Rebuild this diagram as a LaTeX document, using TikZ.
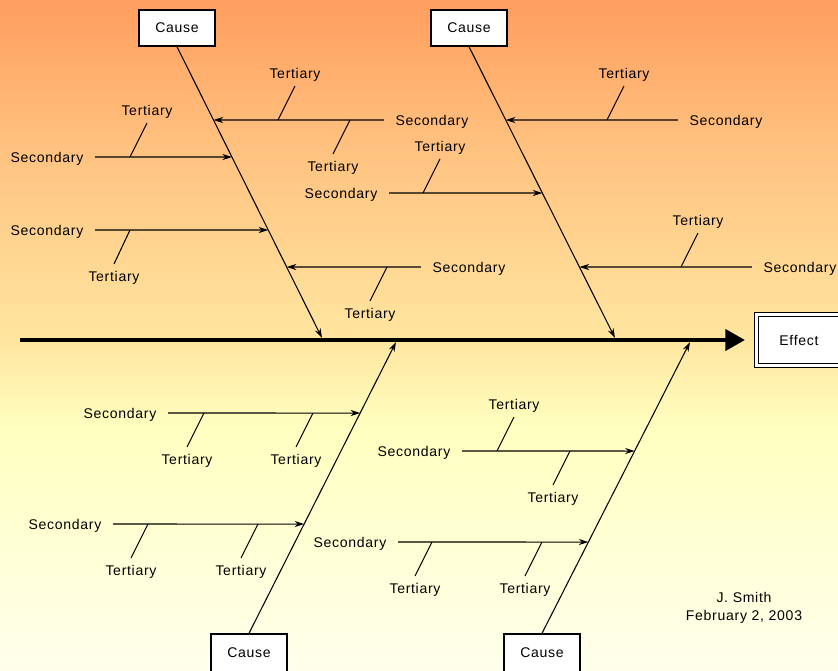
\documentclass[tikz,border=0pt]{standalone}
\usepackage{fontspec}
\setmainfont{Liberation Sans}[LetterSpace=5]
\usetikzlibrary{arrows.meta}
\definecolor{bgtop}{RGB}{255,158,94}
\definecolor{bgup}{RGB}{255,194,128}
\definecolor{bgmid}{RGB}{255,230,160}
\definecolor{bgyel}{RGB}{255,255,192}
\definecolor{bgbot}{RGB}{255,255,236}
\pgfdeclareverticalshading{bgshade}{100bp}{color(0bp)=(bgbot); color(25bp)=(bgbot);
  color(43bp)=(bgyel); color(49.6bp)=(bgmid); color(63.8bp)=(bgup);
  color(75bp)=(bgtop); color(100bp)=(bgtop)}

\begin{document}
\begin{tikzpicture}[
    x=0.02cm, y=-0.02cm,
    font=\fontsize{8}{10}\selectfont,
    cause/.style={draw, line width=0.8pt, fill=white, inner sep=0,
      minimum width=1.52cm, minimum height=0.72cm},
    lowcause/.style={cause, minimum height=0.9cm, text depth=5pt},
    effect/.style={draw, line width=0.6pt, double, double distance=1.7pt,
      fill=white, minimum width=1.69cm, minimum height=1.02cm},
    sec/.style={inner xsep=6.5pt, inner ysep=2pt, text depth=0pt},
    ter/.style={inner sep=4pt, text depth=0pt},
    thinline/.style={line width=0.6pt},
    post/.style={thinline, -{Stealth[length=5.5pt, width=3.5pt]}},
    spine/.style={line width=1.8pt, -{Triangle[length=11pt, width=12pt]}}
  ]
  \path[use as bounding box, clip] (0,0) rectangle (838,670);
  \shade[shading=bgshade] (0,0) rectangle (838,670);

  % causes and effect
  \node[cause] (c1) at (177,28) {Cause};
  \node[cause] (c2) at (469,28) {Cause};
  \node[lowcause] (c3) at (249,656.5) {Cause};
  \node[lowcause] (c4) at (542,656.5) {Cause};
  \node[effect] (e) at (799,340) {Effect};

  % spine and main bones
  \coordinate (tail) at (20,340);
  \draw[spine, shorten >=6.5pt] (tail) -- (e);
  \coordinate (j1) at (322,338);
  \coordinate (j2) at (615,338);
  \coordinate (j3) at (396,342);
  \coordinate (j4) at (690,342);
  \draw[post] (c1.south) -- (j1);
  \draw[post] (c2.south) -- (j2);
  \draw[post] (c3.north) -- (j3);
  \draw[post] (c4.north) -- (j4);

  % where the secondaries meet the bones
  \coordinate (b1) at (intersection of c1.south--j1 and 0,157--1,157);
  \coordinate (b2) at (intersection of c1.south--j1 and 0,230--1,230);
  \coordinate (b3) at (intersection of c1.south--j1 and 0,120--1,120);
  \coordinate (b4) at (intersection of c1.south--j1 and 0,267--1,267);
  \coordinate (b5) at (intersection of c2.south--j2 and 0,120--1,120);
  \coordinate (b6) at (intersection of c2.south--j2 and 0,193--1,193);
  \coordinate (b7) at (intersection of c2.south--j2 and 0,267--1,267);
  \coordinate (b8) at (intersection of c3.north--j3 and 0,413--1,413);
  \coordinate (b9) at (intersection of c3.north--j3 and 0,524--1,524);
  \coordinate (b10) at (intersection of c4.north--j4 and 0,451--1,451);
  \coordinate (b11) at (intersection of c4.north--j4 and 0,542--1,542);

  % secondaries
  \node[sec] (s1) at (47,157) {Secondary} edge[post] (b1);
  \node[sec] (s2) at (47,230) {Secondary} edge[post] (b2);
  \node[sec] (s3) at (432,120) {Secondary} edge[post] (b3);
  \node[sec] (s4) at (469,267) {Secondary} edge[post] (b4);
  \node[sec] (s5) at (726,120) {Secondary} edge[post] (b5);
  \node[sec] (s6) at (341,193) {Secondary} edge[post] (b6);
  \node[sec] (s7) at (800,267) {Secondary} edge[post] (b7);
  \node[sec] (s8) at (120,413) {Secondary} edge[post] (b8);
  \node[sec] (s9) at (65,524) {Secondary} edge[post] (b9);
  \node[sec] (s10) at (414,451) {Secondary} edge[post] (b10);
  \node[sec] (s11) at (350,542) {Secondary} edge[post] (b11);

  % tertiaries
  \coordinate (t1) at (130,157);
  \node[ter, above] (u1) at (147,123) {Tertiary};
  \draw[thinline] (t1) -- (u1.south);
  \coordinate (t2) at (130,230);
  \node[ter, below] (u2) at (114,264) {Tertiary};
  \draw[thinline] (t2) -- (u2.north);
  \coordinate (t3) at (278,120);
  \node[ter, above] (u3) at (295,86) {Tertiary};
  \draw[thinline] (t3) -- (u3.south);
  \coordinate (t4) at (350,120);
  \node[ter, below] (u4) at (333,154) {Tertiary};
  \draw[thinline] (t4) -- (u4.north);
  \coordinate (t5) at (387,267);
  \node[ter, below] (u5) at (370,301) {Tertiary};
  \draw[thinline] (t5) -- (u5.north);
  \coordinate (t6) at (607,120);
  \node[ter, above] (u6) at (624,86) {Tertiary};
  \draw[thinline] (t6) -- (u6.south);
  \coordinate (t7) at (423,193);
  \node[ter, above] (u7) at (440,159) {Tertiary};
  \draw[thinline] (t7) -- (u7.south);
  \coordinate (t8) at (681,267);
  \node[ter, above] (u8) at (698,233) {Tertiary};
  \draw[thinline] (t8) -- (u8.south);
  \coordinate (t9) at (204,413);
  \node[ter, below] (u9) at (187,447) {Tertiary};
  \draw[thinline] (t9) -- (u9.north);
  \coordinate (t10) at (313,413);
  \node[ter, below] (u10) at (296,447) {Tertiary};
  \draw[thinline] (t10) -- (u10.north);
  \coordinate (t11) at (148,524);
  \node[ter, below] (u11) at (131,558) {Tertiary};
  \draw[thinline] (t11) -- (u11.north);
  \coordinate (t12) at (258,524);
  \node[ter, below] (u12) at (241,558) {Tertiary};
  \draw[thinline] (t12) -- (u12.north);
  \coordinate (t13) at (497,451);
  \node[ter, above] (u13) at (514,417) {Tertiary};
  \draw[thinline] (t13) -- (u13.south);
  \coordinate (t14) at (570,451);
  \node[ter, below] (u14) at (553,485) {Tertiary};
  \draw[thinline] (t14) -- (u14.north);
  \coordinate (t15) at (432,542);
  \node[ter, below] (u15) at (415,576) {Tertiary};
  \draw[thinline] (t15) -- (u15.north);
  \coordinate (t16) at (542,542);
  \node[ter, below] (u16) at (525,576) {Tertiary};
  \draw[thinline] (t16) -- (u16.north);

  % author
  \node[align=center] (sig) at (744,608) {J. Smith\\February 2, 2003};
\end{tikzpicture}
\end{document}
